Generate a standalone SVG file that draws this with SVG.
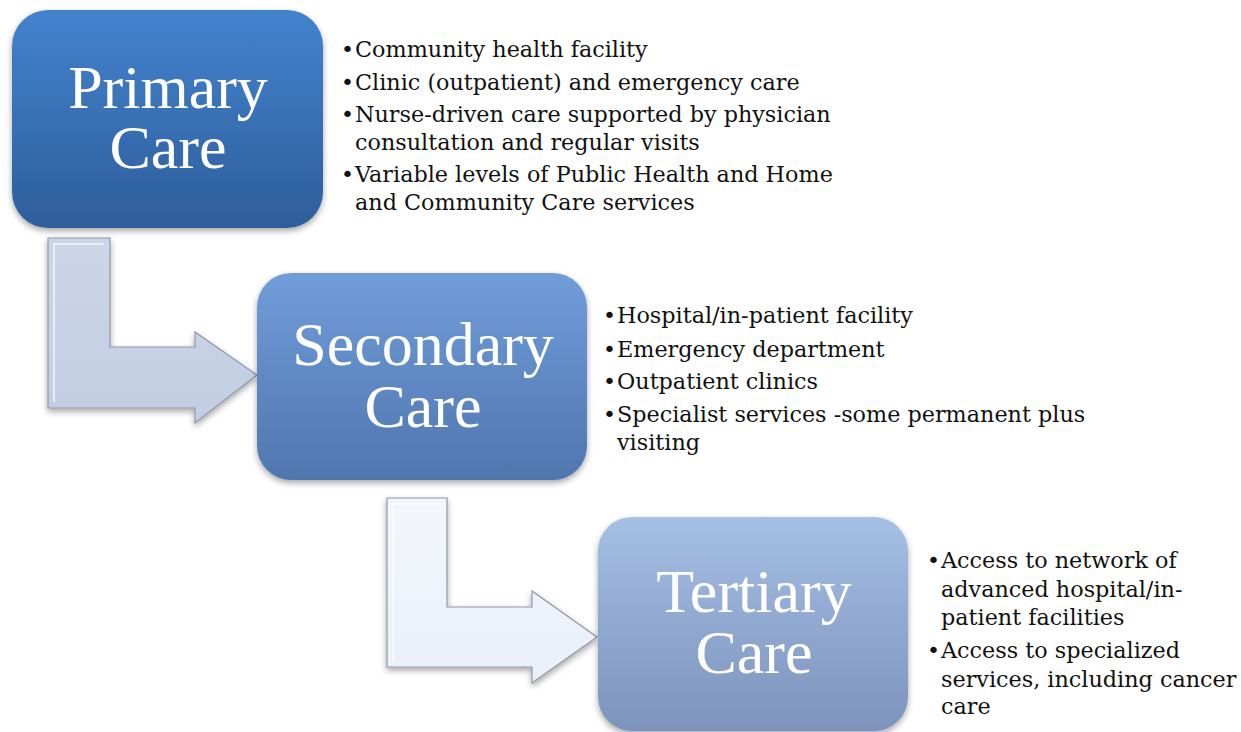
<svg xmlns="http://www.w3.org/2000/svg" width="1241" height="732" viewBox="0 0 1241 732">
<defs>
  <linearGradient id="g1" x1="0" y1="0" x2="0" y2="1">
    <stop offset="0" stop-color="#4383ce"/>
    <stop offset="1" stop-color="#2e5d9b"/>
  </linearGradient>
  <linearGradient id="g2" x1="0" y1="0" x2="0" y2="1">
    <stop offset="0" stop-color="#709dd9"/>
    <stop offset="1" stop-color="#5076ae"/>
  </linearGradient>
  <linearGradient id="g3" x1="0" y1="0" x2="0" y2="1">
    <stop offset="0" stop-color="#a6bfe5"/>
    <stop offset="1" stop-color="#7c93bb"/>
  </linearGradient>
  <linearGradient id="ga1" x1="0" y1="0" x2="0" y2="1">
    <stop offset="0" stop-color="#cdd6e8"/>
    <stop offset="1" stop-color="#c3cde2"/>
  </linearGradient>
  <linearGradient id="ga2" x1="0" y1="0" x2="0" y2="1">
    <stop offset="0" stop-color="#f3f6fc"/>
    <stop offset="1" stop-color="#eaeff8"/>
  </linearGradient>
  <filter id="sh" x="-10%" y="-10%" width="120%" height="125%">
    <feDropShadow dx="0" dy="3" stdDeviation="3" flood-color="#000" flood-opacity="0.35"/>
  </filter>
</defs>
<style>
  .title { font-family: "Liberation Serif", serif; font-size: 62px; fill: #ffffff; text-anchor: middle; }
  .b { font-family: "DejaVu Serif", serif; font-size: 22.3px; fill: #111111; }
  .dot { font-family: "DejaVu Sans", sans-serif; font-size: 22px; fill: #111111; }
  .box { stroke: none; filter: url(#sh); }
  .arrow { stroke: #8f98a6; stroke-width: 1.2; filter: url(#sh); }
  .bevel { fill: none; stroke: #ffffff; stroke-opacity: 0.6; stroke-width: 2; }
</style>

<g id="connectors">
  <g id="arrow-primary-secondary">
    <polygon class="arrow" fill="url(#ga1)" points="48,238 110,238 110,347 195,347 195,332 257,375 195,423 195,408 48,408"/>
    <polyline class="bevel" points="54,402 54,244 104,244"/>
  </g>
  <g id="arrow-secondary-tertiary">
    <polygon class="arrow" fill="url(#ga2)" points="387,498 447,498 447,607 532,607 532,591 597,637 532,683 532,667 387,667"/>
    <polyline class="bevel" points="393,661 393,504 441,504"/>
  </g>
</g>

<g id="primary">
  <rect class="box" x="12" y="10" width="311" height="218" rx="36" fill="url(#g1)"/>
  <text class="title"><tspan x="168" y="108">Primary</tspan><tspan x="168" y="168">Care</tspan></text>
</g>
<g id="primary-details">
  <text class="dot" x="341" y="57">•</text><text class="b" x="355" y="57">Community health facility</text>
  <text class="dot" x="341" y="90">•</text><text class="b" x="355" y="90">Clinic (outpatient) and emergency care</text>
  <text class="dot" x="341" y="122">•</text><text class="b" x="355" y="122">Nurse-driven care supported by physician</text>
  <text class="b" x="355" y="150">consultation and regular visits</text>
  <text class="dot" x="341" y="182">•</text><text class="b" x="355" y="182">Variable levels of Public Health and Home</text>
  <text class="b" x="355" y="210">and Community Care services</text>
</g>

<g id="secondary">
  <rect class="box" x="257" y="273" width="330" height="207" rx="34" fill="url(#g2)"/>
  <text class="title"><tspan x="423" y="365">Secondary</tspan><tspan x="423" y="427">Care</tspan></text>
</g>
<g id="secondary-details">
  <text class="dot" x="603" y="323">•</text><text class="b" x="617" y="323">Hospital/in-patient facility</text>
  <text class="dot" x="603" y="357">•</text><text class="b" x="617" y="357">Emergency department</text>
  <text class="dot" x="603" y="389">•</text><text class="b" x="617" y="389">Outpatient clinics</text>
  <text class="dot" x="603" y="422">•</text><text class="b" x="617" y="422">Specialist services -some permanent plus</text>
  <text class="b" x="617" y="450">visiting</text>
</g>

<g id="tertiary">
  <rect class="box" x="598" y="517" width="310" height="214" rx="34" fill="url(#g3)"/>
  <text class="title"><tspan x="754" y="612">Tertiary</tspan><tspan x="754" y="673">Care</tspan></text>
</g>
<g id="tertiary-details">
  <text class="dot" x="927" y="568">•</text><text class="b" x="941" y="568">Access to network of</text>
  <text class="b" x="941" y="597">advanced hospital/in-</text>
  <text class="b" x="941" y="625">patient facilities</text>
  <text class="dot" x="927" y="658">•</text><text class="b" x="941" y="658">Access to specialized</text>
  <text class="b" x="941" y="687">services, including cancer</text>
  <text class="b" x="941" y="714">care</text>
</g>
</svg>
